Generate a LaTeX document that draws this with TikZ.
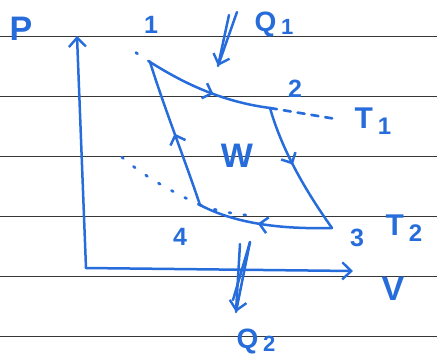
\documentclass[tikz,border=0pt]{standalone}
\usepackage{fontspec}
\setmainfont{Liberation Sans}
\usetikzlibrary{arrows.meta,decorations.markings}
\definecolor{ink}{RGB}{38,108,218}
\definecolor{rule}{RGB}{55,55,55}

\begin{document}
\begin{tikzpicture}[x=1pt, y=-1pt,
      pen/.style={draw=ink, line width=2.5pt, line cap=round, line join=round},
      tip/.style={-{Straight Barb[length=9pt, width=17pt, line width=2.4pt]}},
      midtip/.style={postaction={decorate}, decoration={markings,
        mark=at position #1 with {\arrow{Straight Barb[length=8pt, width=16pt]}}}},
      dots/.style={draw=ink, line width=2.7pt, line cap=round, dash pattern=on 2pt off 13pt},
      lbl/.style={text=ink, inner sep=0pt, font=\bfseries\fontsize{25}{25}\selectfont},
      big/.style={text=ink, inner sep=0pt, font=\bfseries\fontsize{34}{34}\selectfont},
      paper/.style={draw=rule, line width=1pt}
    ]
      \useasboundingbox (0,0) rectangle (437,360);
      % ruled paper
      \foreach \y in {36,96,...,336}
        \draw[paper] (0,\y) -- (437,\y);

      % corners of the cycle
      \coordinate (s1) at (150,62);
      \coordinate (s2) at (270,108);
      \coordinate (s3) at (332,228);
      \coordinate (s4) at (200,205);

      % axes
      \coordinate (o) at (86,268);
      \coordinate (ptop) at (77,36);
      \coordinate (vend) at (353,271);
      \draw[pen, tip] (o) -- (ptop);
      \draw[pen, tip] (o) -- (vend);
      \node[big] (plbl) at (21,29) {P};
      \node[big] (vlbl) at (393,289) {V};

      % extensions
      \draw[dots] (s1) -- (126,46);
      \draw[dots] (s4) .. controls (160,186) and (135,170) .. (114,150);
      \draw[dots] (s4) .. controls (220,212) and (240,215) .. (258,216);
      \draw[dots, dash pattern=on 7pt off 7pt] (s2) -- (336,119);

      % cycle
      \draw[pen, midtip=0.55] (s1) .. controls (188,86) and (225,102) .. (s2);
      \draw[pen, midtip=0.45] (s2) .. controls (282,150) and (305,190) .. (s3);
      \draw[pen, midtip=0.55] (s3) .. controls (290,229) and (240,226) .. (s4);
      \draw[pen, midtip=0.5] (s4) .. controls (185,160) and (165,110) .. (s1);

      \node[lbl] (n1) at (151,25) {1};
      \node[lbl] (n2) at (295,89) {2};
      \node[lbl] (n3) at (357,238) {3};
      \node[lbl] (n4) at (180,237) {4};
      \node[big] (wlbl) at (237,156) {W};
      \node[lbl, font=\bfseries\fontsize{30}{30}\selectfont] (t1) at (373,121) {T\,\raisebox{-6pt}{\fontsize{24}{24}\selectfont 1}};
      \node[lbl, font=\bfseries\fontsize{30}{30}\selectfont] (t2) at (404,228) {T\,\raisebox{-6pt}{\fontsize{24}{24}\selectfont 2}};

      % heat in and out
      \coordinate (q1a) at (237,12);
      \coordinate (q1b) at (229,15);
      \coordinate (q1e) at (218,66);
      \draw[pen] (q1b) -- (q1e);
      \draw[pen, tip] (q1a) -- (q1e);
      \node[lbl, font=\bfseries\fontsize{28}{28}\selectfont] (q1) at (274,24) {Q\,\raisebox{-3pt}{\fontsize{22}{22}\selectfont 1}};

      \coordinate (q2a) at (250,242);
      \coordinate (q2b) at (240,244);
      \coordinate (q2e) at (236,312);
      \draw[pen] (q2b) -- (q2e);
      \draw[pen] (q2a) -- (233,300);
      \draw[pen, tip] (q2a) -- (q2e);
      \node[lbl, font=\bfseries\fontsize{28}{28}\selectfont] (q2) at (256,341) {Q\,\raisebox{-3pt}{\fontsize{22}{22}\selectfont 2}};
    \end{tikzpicture}
\end{document}
